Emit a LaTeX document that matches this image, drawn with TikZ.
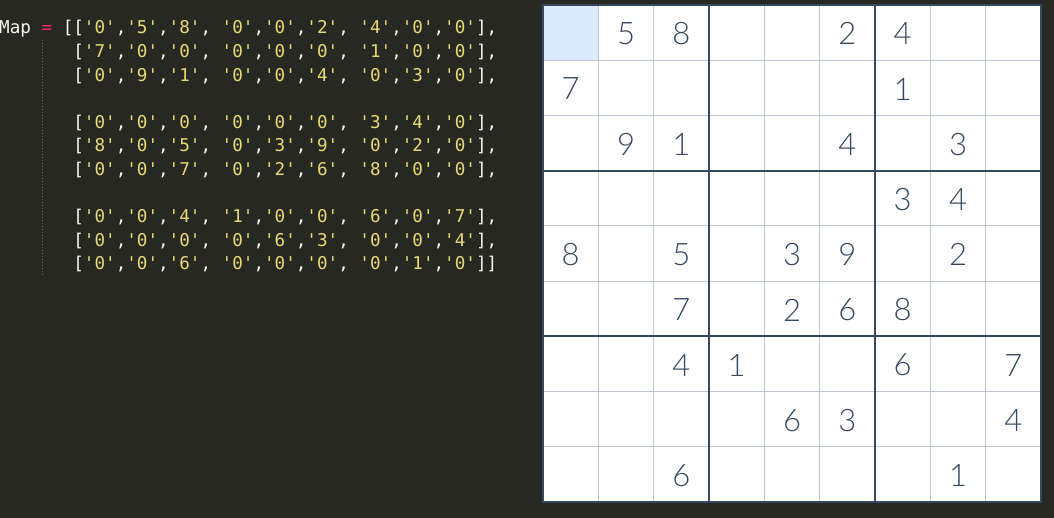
\documentclass[tikz,border=0pt]{standalone}
\usepackage{fontspec}
\usepackage{xcolor}
\newfontfamily\codefont{DejaVu Sans Mono}
\IfFontExistsTF{Lato Light}{\newfontfamily\digfont{Lato Light}}{\newfontfamily\digfont{TeX Gyre Heros}}
\definecolor{bgc}{HTML}{272822}
\definecolor{txtc}{HTML}{F8F8F2}
\definecolor{pinkc}{HTML}{F92672}
\definecolor{strc}{HTML}{E6DB74}
\definecolor{guidec}{HTML}{6A6A60}
\definecolor{thinc}{HTML}{BFC7D5}
\definecolor{thickc}{HTML}{344861}
\definecolor{hlc}{HTML}{DCEBFB}
\newcommand\strq[1]{\textcolor{strc}{\char39 #1\char39}}
\newcommand\sudrow[9]{[\strq{#1},\strq{#2},\strq{#3}, \strq{#4},\strq{#5},\strq{#6}, \strq{#7},\strq{#8},\strq{#9}]}
\begin{document}
\begin{tikzpicture}[x=1pt,y=-1pt,
  codeline/.style={anchor=base west,inner sep=0pt,text=txtc,font=\codefont\fontsize{17.6}{20}\selectfont},
  digit/.style={inner sep=0pt,text=thickc,font=\digfont\fontsize{31}{33}\selectfont},
  thinline/.style={draw=thinc,line width=1pt},
  thickline/.style={draw=thickc,line width=2pt}]
\useasboundingbox (0,0) rectangle (1054,518);
\fill[bgc] (0,0) rectangle (1054,518);
% code
\draw[guidec,dotted,line width=1pt] (42,40) -- (42,275);
\def\lsp{23.6}
\node[codeline] (l1) at (-1,34) {Map \textcolor{pinkc}{=} [\sudrow{0}{5}{8}{0}{0}{2}{4}{0}{0},};
\node[codeline] (l2) at (-1,34+1*\lsp) {\hphantom{Map = [}\sudrow{7}{0}{0}{0}{0}{0}{1}{0}{0},};
\node[codeline] (l3) at (-1,34+2*\lsp) {\hphantom{Map = [}\sudrow{0}{9}{1}{0}{0}{4}{0}{3}{0},};
\node[codeline] (l4) at (-1,34+4*\lsp) {\hphantom{Map = [}\sudrow{0}{0}{0}{0}{0}{0}{3}{4}{0},};
\node[codeline] (l5) at (-1,34+5*\lsp) {\hphantom{Map = [}\sudrow{8}{0}{5}{0}{3}{9}{0}{2}{0},};
\node[codeline] (l6) at (-1,34+6*\lsp) {\hphantom{Map = [}\sudrow{0}{0}{7}{0}{2}{6}{8}{0}{0},};
\node[codeline] (l7) at (-1,34+8*\lsp) {\hphantom{Map = [}\sudrow{0}{0}{4}{1}{0}{0}{6}{0}{7},};
\node[codeline] (l8) at (-1,34+9*\lsp) {\hphantom{Map = [}\sudrow{0}{0}{0}{0}{6}{3}{0}{0}{4},};
\node[codeline] (l9) at (-1,34+10*\lsp) {\hphantom{Map = [}\sudrow{0}{0}{6}{0}{0}{0}{0}{1}{0}]};
% sudoku grid
\def\gx{543}\def\gy{5}\def\cw{55.333}\def\ch{55.222}
\fill[white] (\gx,\gy) rectangle (\gx+9*\cw,\gy+9*\ch);
\fill[hlc] (\gx,\gy) rectangle (\gx+\cw,\gy+\ch);
\foreach \i in {1,2,4,5,7,8}{
  \draw[thinline] (\gx+\i*\cw,\gy) -- (\gx+\i*\cw,\gy+9*\ch);
  \draw[thinline] (\gx,\gy+\i*\ch) -- (\gx+9*\cw,\gy+\i*\ch);
}
\foreach \i in {3,6}{
  \draw[thickline] (\gx+\i*\cw,\gy) -- (\gx+\i*\cw,\gy+9*\ch);
  \draw[thickline] (\gx,\gy+\i*\ch) -- (\gx+9*\cw,\gy+\i*\ch);
}
\draw[thickline] (\gx,\gy) rectangle (\gx+9*\cw,\gy+9*\ch);
\foreach \r/\rl in {0/{0,5,8,0,0,2,4,0,0},1/{7,0,0,0,0,0,1,0,0},2/{0,9,1,0,0,4,0,3,0},
  3/{0,0,0,0,0,0,3,4,0},4/{8,0,5,0,3,9,0,2,0},5/{0,0,7,0,2,6,8,0,0},
  6/{0,0,4,1,0,0,6,0,7},7/{0,0,0,0,6,3,0,0,4},8/{0,0,6,0,0,0,0,1,0}}{
  \foreach \d [count=\c from 0] in \rl {
    \ifnum\d>0
      \node[digit] (n\r\c) at (\gx+\c*\cw+0.5*\cw,\gy+\r*\ch+0.5*\ch+1.2) {\d};
    \fi
  }
}
\end{tikzpicture}
\end{document}
